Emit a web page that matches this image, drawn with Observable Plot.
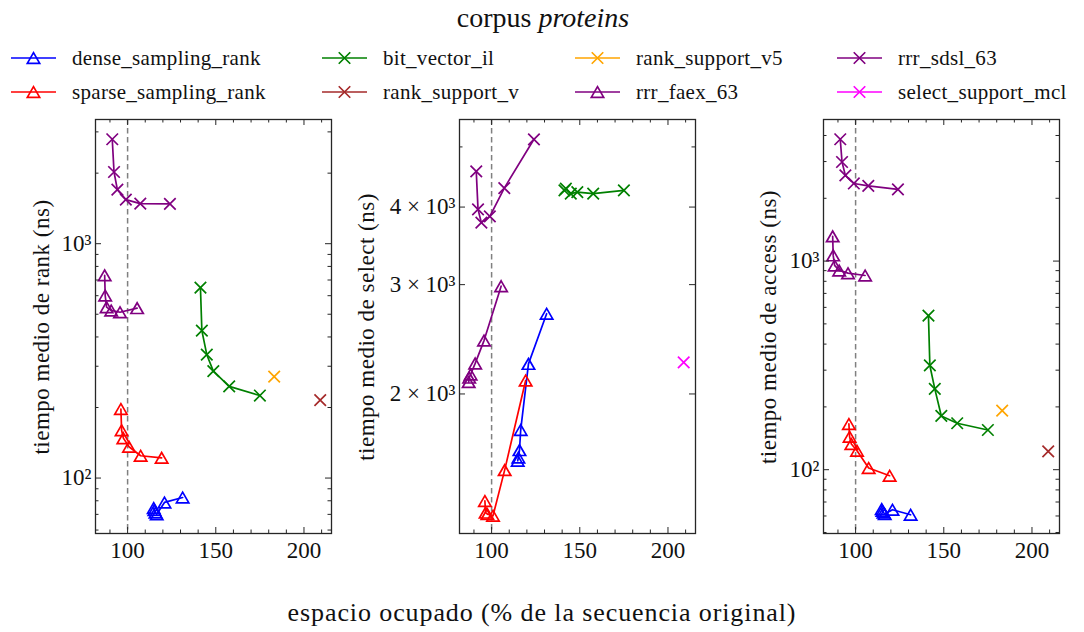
<!DOCTYPE html>
<html><head><meta charset="utf-8">
<script src="https://cdn.jsdelivr.net/npm/d3@7"></script>
<script src="https://cdn.jsdelivr.net/npm/@observablehq/plot@0.6"></script>
<style>
body{margin:0;background:#fff;}
#root{position:relative;width:1084px;height:632px;font-family:'Liberation Serif','DejaVu Serif',serif;color:#111;overflow:hidden;}
.abs{position:absolute;white-space:nowrap;line-height:1;font-family:'Liberation Serif','DejaVu Serif',serif;}
</style></head><body><div id="root"></div>
<script>
// ---------- data ----------
const seriesNames = ["dense_sampling_rank","sparse_sampling_rank","bit_vector_il","rank_support_v","rank_support_v5","rrr_faex_63","rrr_sdsl_63","select_support_mcl"];
const seriesColors = ["#0000ff","#ff0000","#008000","#a52a2a","#ffa500","#800080","#800080","#ff00ff"];
const seriesSymbols = ["triangle","triangle","times","times","times","triangle","times","times"];

const denseSpace  = [114.8, 115.2, 115.8, 116.5, 120.9, 131.2];
const denseRank   = [74.5, 73.0, 71.3, 70.0, 78.7, 82.6];
const denseSelect = [1561, 1580, 1624, 1750, 2236, 2693];
const denseAccess = [64.7, 63.5, 62.3, 61.3, 64.3, 60.8];

const sparseSpace  = [96.2, 96.6, 97.6, 100.8, 107.4, 119.3];
const sparseRank   = [197, 160, 148, 136, 124.5, 122];
const sparseSelect = [1345, 1288, 1281, 1273, 1508, 2102];
const sparseAccess = [165.7, 143.9, 132.8, 123.3, 101.9, 93.6];

const bvSpace  = [141.3, 142.1, 144.9, 148.6, 157.6, 175.0];
const bvRank   = [649, 426, 336, 286, 246, 225];
const bvSelect = [4255, 4282, 4204, 4229, 4204, 4255];
const bvAccess = [548, 316, 244, 181, 167, 155];

const rsvSpace  = [209.2];
const rsvRank   = [215];
const rsvAccess = [122.4];

const rsv5Space  = [183.1];
const rsv5Rank   = [271];
const rsv5Access = [192];

const faexSpace  = [87.0, 87.3, 88.1, 90.7, 95.7, 105.4];
const faexRank   = [733, 601, 536, 519, 510, 531];
const faexSelect = [2090, 2125, 2150, 2240, 2438, 2983];
const faexAccess = [1314, 1065, 953, 902, 875, 853];

const sdslSpace  = [91.3, 92.3, 94.2, 99.0, 107.2, 124.0];
const sdslRank   = [2790, 2023, 1701, 1542, 1483, 1478];
const sdslSelect = [4566, 3966, 3775, 3864, 4292, 5143];
const sdslAccess = [3837, 2985, 2576, 2355, 2293, 2208];

const mclSpace  = [208.9];
const mclSelect = [2249];

const xMajorTicks = [100, 150, 200];
const xMinorTicks = [90, 110, 120, 130, 140, 160, 170, 180, 190, 210];
const xDomain = [81.8, 215.6];

const rankMajorTicks = [100, 1000];
const rankTickLabels = ["10²", "10³"];
const rankMinorTicks = [60, 70, 80, 90, 200, 300, 400, 500, 600, 700, 800, 900, 2000, 3000];
const rankDomain = [58.0, 3388];

const selectMajorTicks = [2000, 3000, 4000];
const selectTickLabels = ["2 × 10³", "3 × 10³", "4 × 10³"];
const selectMinorTicks = [5000];
const selectDomain = [1192, 5535];

const accessMajorTicks = [100, 1000];
const accessTickLabels = ["10²", "10³"];
const accessMinorTicks = [50, 60, 70, 80, 90, 200, 300, 400, 500, 600, 700, 800, 900, 2000, 3000, 4000];
const accessDomain = [49.45, 4772];

const titleMain = "corpus ";
const titleItalic = "proteins";
const xTitle = "espacio ocupado (% de la secuencia original)";
const yTitles = ["tiempo medio de rank (ns)", "tiempo medio de select (ns)", "tiempo medio de access (ns)"];

// ---------- assemble ----------
const seriesSpace = [denseSpace, sparseSpace, bvSpace, rsvSpace, rsv5Space, faexSpace, sdslSpace, mclSpace];
const seriesRank = [denseRank, sparseRank, bvRank, rsvRank, rsv5Rank, faexRank, sdslRank, null];
const seriesSelect = [denseSelect, sparseSelect, bvSelect, null, null, faexSelect, sdslSelect, mclSelect];
const seriesAccess = [denseAccess, sparseAccess, bvAccess, rsvAccess, rsv5Access, faexAccess, sdslAccess, null];

const root = document.getElementById("root");
const FONT = "'Liberation Serif', 'DejaVu Serif', serif";
const innerW = 236, innerH = 414, mTop = 9, mBottom = 40;
const frameColor = "#262626";

function rowsFor(values) {
  const out = [];
  seriesNames.forEach((name, si) => {
    const ys = values[si];
    if (!ys) return;
    ys.forEach((v, i) => out.push({series: name, si, x: seriesSpace[si][i], y: v}));
  });
  return out;
}

function makePanel({left, marginLeft, width, yDomain, yMajor, yLabels, yMinor, values, yTitle, yTitleX}) {
  const rows = rowsFor(values);
  const marks = [
    Plot.ruleX([100], {stroke: "#808080", strokeWidth: 1.5, strokeDasharray: "5.5,3.5"})
  ];
  seriesNames.forEach((name, si) => {
    const d = rows.filter(r => r.si === si);
    if (!d.length) return;
    const tri = seriesSymbols[si] === "triangle";
    marks.push(Plot.line(d, {x: "x", y: "y", stroke: seriesColors[si], strokeWidth: 1.7}));
    marks.push(Plot.dot(d, {x: "x", y: "y", symbol: seriesSymbols[si], r: tri ? 4.6 : 5.3,
      stroke: seriesColors[si], fill: "none", strokeWidth: 1.7, dy: tri ? 1.8 : 0}));
  });
  const tk = {stroke: frameColor, strokeWidth: 1};
  marks.push(
    Plot.tickX(xMajorTicks, {x: d => d, insetTop: innerH - 6, ...tk}),
    Plot.tickX(xMajorTicks, {x: d => d, insetBottom: innerH - 6, ...tk}),
    Plot.tickX(xMinorTicks, {x: d => d, insetTop: innerH - 3.5, ...tk}),
    Plot.tickX(xMinorTicks, {x: d => d, insetBottom: innerH - 3.5, ...tk}),
    Plot.tickY(yMajor, {y: d => d, insetRight: innerW - 6, ...tk}),
    Plot.tickY(yMajor, {y: d => d, insetLeft: innerW - 6, ...tk}),
    Plot.tickY(yMinor, {y: d => d, insetRight: innerW - 3.5, ...tk}),
    Plot.tickY(yMinor, {y: d => d, insetLeft: innerW - 3.5, ...tk}),
    Plot.axisX({ticks: xMajorTicks, tickSize: 0, tickPadding: 8, tickFormat: d => String(d)}),
    Plot.axisY({ticks: yMajor, tickSize: 0, tickPadding: 4, tickFormat: d => yLabels[yMajor.indexOf(d)]}),
    Plot.frame({stroke: frameColor, strokeWidth: 1.3})
  );
  const svg = Plot.plot({
    width, height: mTop + innerH + mBottom,
    marginLeft, marginRight: width - marginLeft - innerW, marginTop: mTop, marginBottom: mBottom,
    x: {type: "linear", domain: xDomain, label: null},
    y: {type: "log", domain: yDomain, label: null},
    style: {fontFamily: FONT, fontSize: "23px", color: "#111", background: "transparent", overflow: "visible"},
    marks
  });
  svg.style.position = "absolute";
  svg.style.left = left + "px";
  svg.style.top = "110px";
  root.appendChild(svg);

  const yt = document.createElement("div");
  yt.className = "abs";
  yt.textContent = yTitle;
  yt.style.cssText += `left:${yTitleX}px;top:327px;font-size:23px;letter-spacing:0.5px;transform:translate(-50%,-50%) rotate(-90deg);`;
  root.appendChild(yt);
}

makePanel({left: 0, marginLeft: 95, width: 340, yDomain: rankDomain, yMajor: rankMajorTicks, yLabels: rankTickLabels, yMinor: rankMinorTicks, values: seriesRank, yTitle: yTitles[0], yTitleX: 41});
makePanel({left: 340, marginLeft: 119, width: 360, yDomain: selectDomain, yMajor: selectMajorTicks, yLabels: selectTickLabels, yMinor: selectMinorTicks, values: seriesSelect, yTitle: yTitles[1], yTitleX: 366});
makePanel({left: 700, marginLeft: 123, width: 384, yDomain: accessDomain, yMajor: accessMajorTicks, yLabels: accessTickLabels, yMinor: accessMinorTicks, values: seriesAccess, yTitle: yTitles[2], yTitleX: 768});

// title
const title = document.createElement("div");
title.className = "abs";
title.innerHTML = `${titleMain}<i>${titleItalic}</i>`;
title.style.cssText += "left:543px;top:18px;font-size:28px;transform:translate(-50%,-50%);";
root.appendChild(title);

// x title
const xt = document.createElement("div");
xt.className = "abs";
xt.textContent = xTitle;
xt.style.cssText += "left:542px;top:613px;font-size:26px;letter-spacing:0.9px;transform:translate(-50%,-50%);";
root.appendChild(xt);

// legend (4 columns x 2 rows, column-major)
const legendCols = [10, 321, 574, 836];
const legendRows = [58, 92];
seriesNames.forEach((name, si) => {
  const col = Math.floor(si / 2), row = si % 2;
  const item = document.createElement("div");
  item.className = "abs";
  item.style.cssText += `left:${legendCols[col]}px;top:${legendRows[row] - 12}px;height:24px;display:flex;align-items:center;font-size:21px;letter-spacing:0.3px;`;
  const sym = seriesSymbols[si] === "triangle" ? d3.symbolTriangle : d3.symbolTimes;
  const rr = seriesSymbols[si] === "triangle" ? 4.6 : 5.3;
  const path = d3.symbol(sym, Math.PI * rr * rr)();
  const dy = seriesSymbols[si] === "triangle" ? 1.8 : 0;
  item.innerHTML = `<svg width="62" height="24" style="display:block"><line x1="1" x2="46" y1="12" y2="12" stroke="${seriesColors[si]}" stroke-width="1.7"/><path d="${path}" transform="translate(23.5,${12 + dy})" fill="none" stroke="${seriesColors[si]}" stroke-width="1.7"/></svg><span>${name}</span>`;
  root.appendChild(item);
});
</script></body></html>
